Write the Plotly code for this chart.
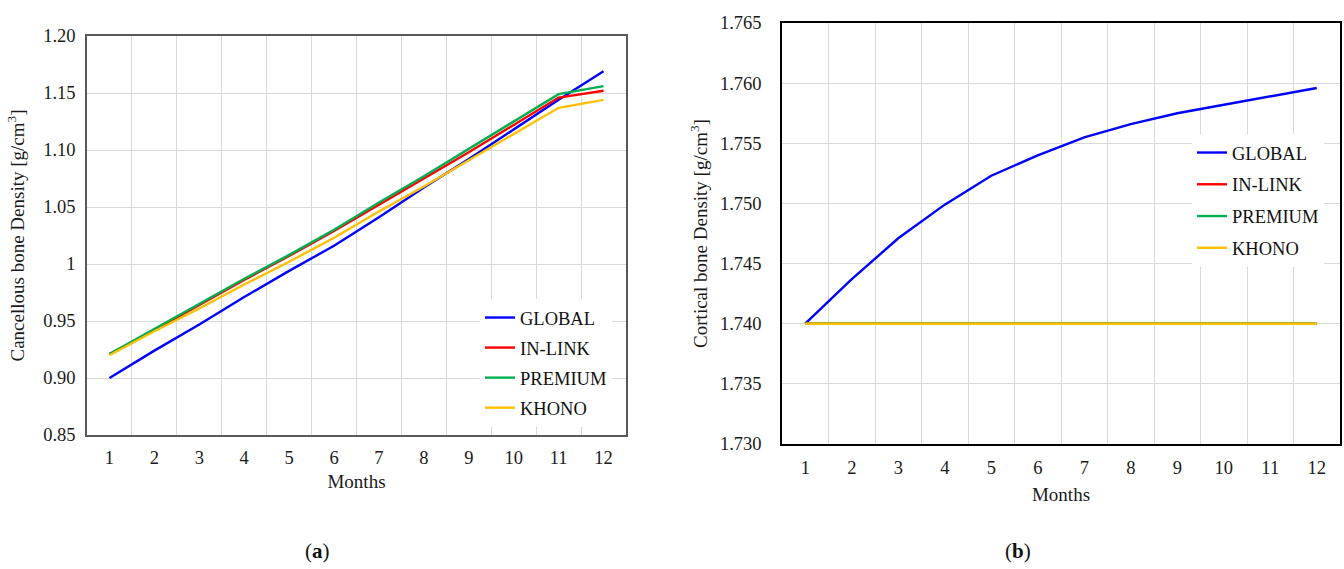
import plotly.graph_objects as go

W, H = 1344, 569

months = [str(m) for m in range(1, 13)]

# Panel (a): cancellous bone density
canc_global = [0.900, 0.924, 0.947, 0.971, 0.994, 1.016, 1.041, 1.067, 1.092, 1.118, 1.144, 1.169]
canc_inlink = [0.921, 0.942, 0.964, 0.986, 1.007, 1.029, 1.052, 1.075, 1.098, 1.122, 1.146, 1.152]
canc_premium = [0.921, 0.943, 0.965, 0.987, 1.008, 1.030, 1.054, 1.077, 1.101, 1.125, 1.149, 1.156]
canc_khono = [0.920, 0.941, 0.961, 0.982, 1.002, 1.023, 1.046, 1.068, 1.091, 1.114, 1.137, 1.144]

# Panel (b): cortical bone density
cort_global = [1.7400, 1.7437, 1.7471, 1.7499, 1.7523, 1.7540, 1.7555, 1.7566, 1.7575, 1.7582, 1.7589, 1.7596]
cort_inlink = [1.740] * 12
cort_premium = [1.740] * 12
cort_khono = [1.740] * 12

series_names = ["GLOBAL", "IN-LINK", "PREMIUM", "KHONO"]
series_colors = ["#0000FF", "#FF0000", "#00B050", "#FFC000"]

left_ticks = [0.85, 0.90, 0.95, 1.00, 1.05, 1.10, 1.15, 1.20]
left_ticktext = ["0.85", "0.90", "0.95", "1", "1.05", "1.10", "1.15", "1.20"]
right_ticks = [1.730, 1.735, 1.740, 1.745, 1.750, 1.755, 1.760, 1.765]
right_ticktext = ["1.730", "1.735", "1.740", "1.745", "1.750", "1.755", "1.760", "1.765"]

FONT = "Liberation Serif"
GRID = "#d9d9d9"
FS = 18.5

def px_x(x):
    return x / W

def px_y(y):
    return 1 - y / H

fig = go.Figure()

for name, color, ys in zip(series_names, series_colors,
                           [canc_global, canc_inlink, canc_premium, canc_khono]):
    fig.add_trace(go.Scatter(x=months, y=ys, mode="lines", name=name,
                             line=dict(color=color, width=2.4),
                             xaxis="x", yaxis="y", legend="legend",
                             legendgroup="a" + name))

for name, color, ys in zip(series_names, series_colors,
                           [cort_global, cort_inlink, cort_premium, cort_khono]):
    fig.add_trace(go.Scatter(x=months, y=ys, mode="lines", name=name,
                             line=dict(color=color, width=2.4),
                             xaxis="x2", yaxis="y2", legend="legend2",
                             legendgroup="b" + name))

tickfont = dict(family=FONT, size=FS, color="#1a1a1a")
titlefont = dict(family=FONT, size=19, color="#1a1a1a")

common_x = dict(type="category", tickson="boundaries", showgrid=True, gridcolor=GRID,
                gridwidth=1, ticks="", tickfont=tickfont, mirror=True, showline=True,
                zeroline=False, range=[-0.5, 11.5], automargin=False)
common_y = dict(showgrid=True, gridcolor=GRID, gridwidth=1, ticks="", tickfont=tickfont,
                mirror=True, showline=True, zeroline=False, tickmode="array",
                automargin=False)

fig.update_layout(
    width=W, height=H,
    margin=dict(l=0, r=0, t=0, b=0, autoexpand=False),
    paper_bgcolor="white", plot_bgcolor="white",
    font=dict(family=FONT, size=FS, color="#1a1a1a"),
    xaxis=dict(common_x, domain=[px_x(87), px_x(626)], anchor="y",
               linecolor="#595959", linewidth=1.5, ticklabelstandoff=5,
               title=dict(text="Months", font=titlefont, standoff=8)),
    yaxis=dict(common_y, domain=[px_y(435), px_y(36)], anchor="x",
               range=[0.85, 1.20], tickvals=left_ticks, ticktext=left_ticktext,
               linecolor="#595959", linewidth=1.5, ticklabelstandoff=6,
               title=dict(text="Cancellous bone Density [g/cm<sup>3</sup>]",
                          font=titlefont, standoff=14)),
    xaxis2=dict(common_x, domain=[px_x(782), px_x(1340)], anchor="y2",
                linecolor="#000", linewidth=1.5, ticklabelstandoff=6,
                title=dict(text="Months", font=titlefont, standoff=11)),
    yaxis2=dict(common_y, domain=[px_y(444), px_y(23)], anchor="x2",
                range=[1.730, 1.765], tickvals=right_ticks, ticktext=right_ticktext,
                linecolor="#000", linewidth=1.5, ticklabelstandoff=15,
                title=dict(text="Cortical bone Density [g/cm<sup>3</sup>]",
                           font=titlefont, standoff=7)),
    legend=dict(x=px_x(480), y=px_y(299), xanchor="left", yanchor="top",
                bgcolor="white", font=dict(family=FONT, size=FS, color="#111"),
                itemwidth=30, tracegroupgap=3, traceorder="grouped"),
    legend2=dict(x=px_x(1192), y=px_y(134), xanchor="left", yanchor="top",
                 bgcolor="white", font=dict(family=FONT, size=FS, color="#111"),
                 itemwidth=30, tracegroupgap=4.7, traceorder="grouped"),
    annotations=[
        dict(text="(<b>a</b>)", x=px_x(317), y=px_y(551), xref="paper", yref="paper",
             xanchor="center", yanchor="middle",
             showarrow=False, font=dict(family=FONT, size=21, color="#111")),
        dict(text="(<b>b</b>)", x=px_x(1018), y=px_y(551), xref="paper", yref="paper",
             xanchor="center", yanchor="middle",
             showarrow=False, font=dict(family=FONT, size=21, color="#111")),
    ],
)

fig.write_html("out.html")
